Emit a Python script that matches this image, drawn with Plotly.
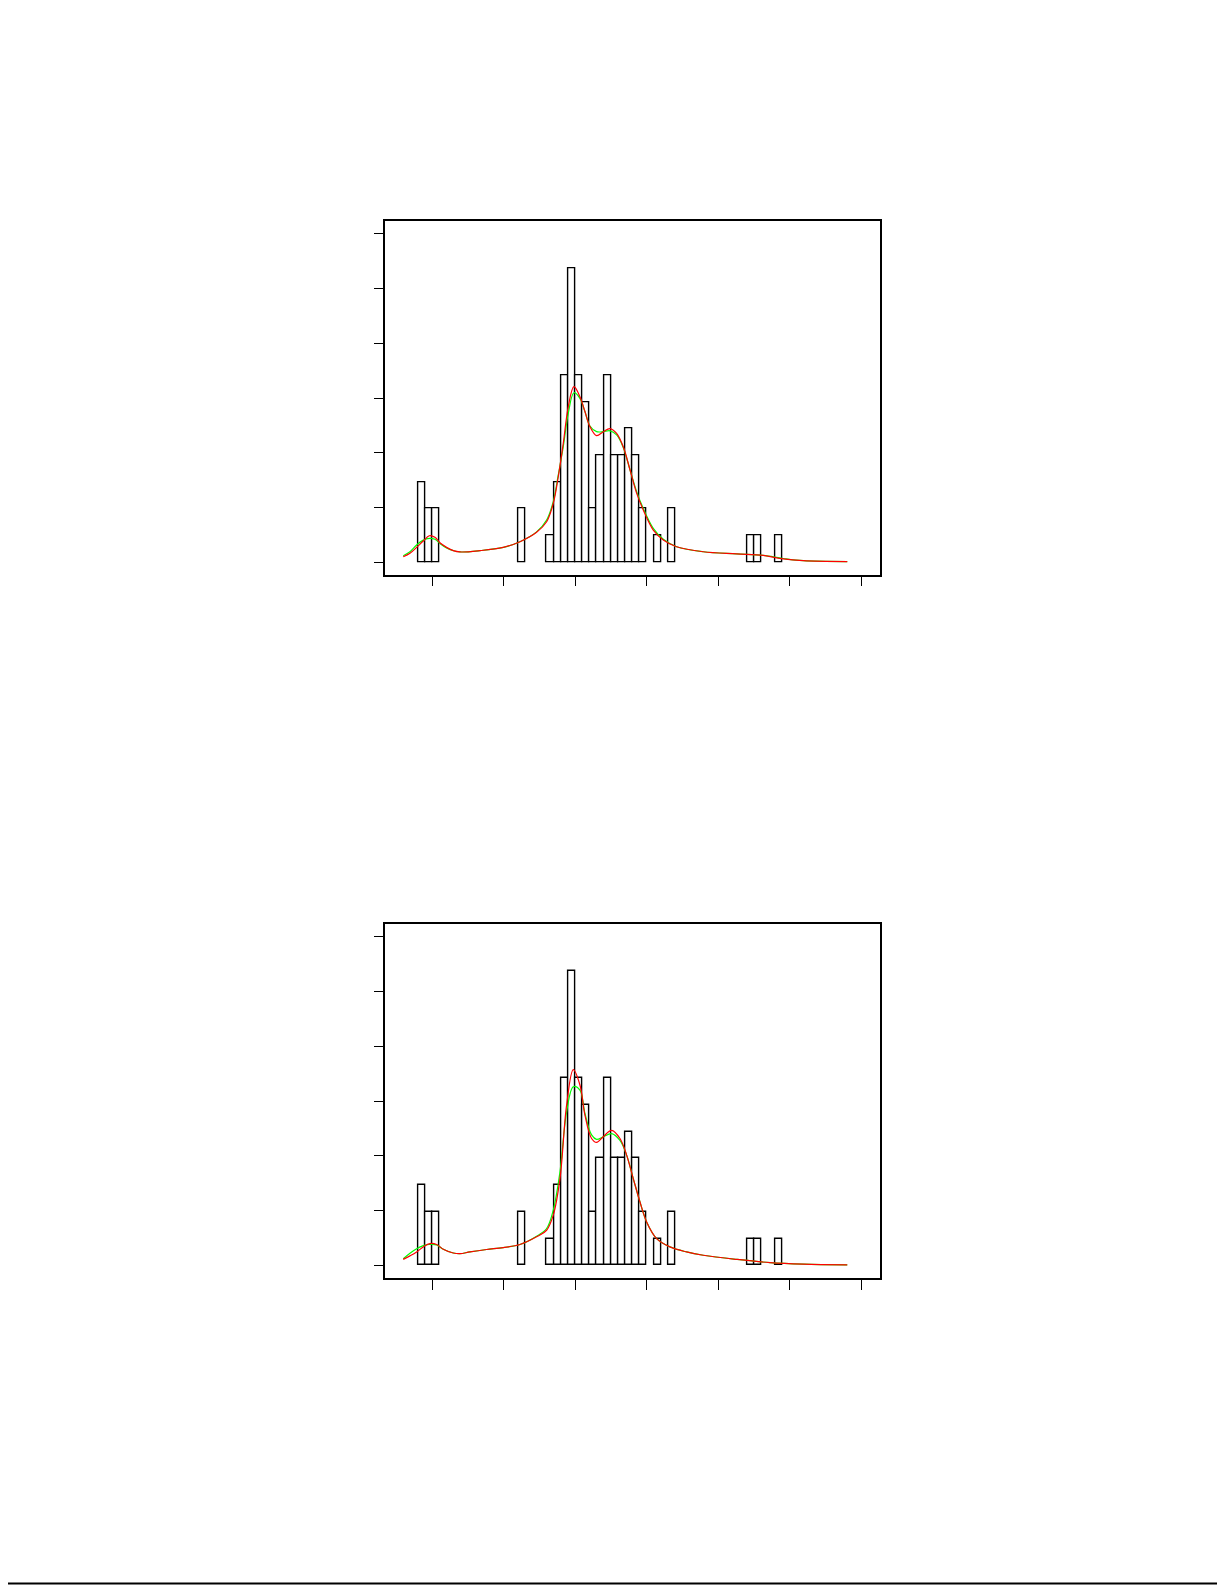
import plotly.graph_objects as go

# histogram: left edge of each bin (bin width 0.1) and counts, same sample in both panels
bin_left = [-0.2, -0.1, 0.0, 1.2, 1.6, 1.7, 1.8, 1.9, 2.0, 2.1, 2.2, 2.3, 2.4, 2.5,
            2.6, 2.7, 2.8, 2.9, 3.1, 3.3, 4.4, 4.5, 4.8]
bin_count = [3, 2, 2, 2, 1, 3, 7, 11, 7, 6, 2, 4, 7, 4, 4, 5, 4, 2, 1, 2, 1, 1, 1]
bin_width = 0.1

# density curves, top panel
x_top = [-0.406, -0.312, -0.219, -0.126, -0.042, 0.037, 0.107, 0.200, 0.294, 0.387,
         0.667, 0.993, 1.226, 1.459, 1.599, 1.692, 1.762, 1.832, 1.902, 1.981, 2.065,
         2.135, 2.205, 2.298, 2.392, 2.485, 2.578, 2.671, 2.765, 2.858, 2.951, 3.091,
         3.231, 3.417, 3.790, 4.256, 4.629, 4.909, 5.189, 5.804]
red_top = [0.024, 0.040, 0.067, 0.096, 0.120, 0.113, 0.088, 0.067, 0.052, 0.046,
           0.052, 0.067, 0.093, 0.136, 0.184, 0.268, 0.390, 0.543, 0.710, 0.802, 0.756,
           0.688, 0.619, 0.578, 0.596, 0.610, 0.588, 0.527, 0.422, 0.315, 0.238, 0.146,
           0.101, 0.070, 0.047, 0.037, 0.030, 0.014, 0.006, 0.002]
green_top = [0.029, 0.047, 0.078, 0.100, 0.108, 0.104, 0.085, 0.064, 0.052, 0.046,
             0.052, 0.067, 0.093, 0.138, 0.192, 0.276, 0.398, 0.527, 0.680, 0.774, 0.748,
             0.688, 0.622, 0.596, 0.596, 0.600, 0.581, 0.524, 0.422, 0.322, 0.245, 0.154,
             0.104, 0.070, 0.047, 0.037, 0.030, 0.016, 0.006, 0.002]

# density curves, bottom panel
x_bot = [-0.406, -0.312, -0.219, -0.126, -0.033, 0.061, 0.154, 0.294, 0.387, 0.527,
         0.760, 0.993, 1.226, 1.459, 1.599, 1.692, 1.786, 1.879, 1.972, 2.065, 2.135,
         2.228, 2.298, 2.392, 2.508, 2.625, 2.718, 2.811, 2.904, 2.998, 3.138, 3.324,
         3.557, 3.790, 4.256, 4.723, 5.189, 5.804]
red_bot = [0.027, 0.043, 0.061, 0.084, 0.099, 0.095, 0.073, 0.056, 0.053, 0.061,
           0.072, 0.081, 0.095, 0.130, 0.160, 0.229, 0.396, 0.732, 0.893, 0.823, 0.686,
           0.579, 0.561, 0.587, 0.616, 0.579, 0.503, 0.396, 0.290, 0.198, 0.122, 0.084,
           0.061, 0.046, 0.027, 0.012, 0.005, 0.002]
green_bot = [0.030, 0.055, 0.076, 0.090, 0.095, 0.093, 0.073, 0.056, 0.053, 0.061,
             0.072, 0.081, 0.095, 0.133, 0.168, 0.252, 0.427, 0.700, 0.815, 0.800, 0.694,
             0.595, 0.575, 0.587, 0.601, 0.570, 0.503, 0.396, 0.290, 0.198, 0.122, 0.084,
             0.061, 0.046, 0.027, 0.012, 0.005, 0.002]

x_ticks = [0, 1, 2, 3, 4, 5, 6]
y_ticks = [0, 0.25, 0.5, 0.75, 1.0, 1.25, 1.5]

# the page body keeps its default 8px margin, so the figure is drawn 8px in from the corner
OFF = 8
W, H = 1225 - OFF, 1585 - OFF
n_total = sum(bin_count)
centers = [b + bin_width / 2 for b in bin_left]
dens = [c / (n_total * bin_width) for c in bin_count]

fig = go.Figure()

panels = [("x", "y", x_top, green_top, red_top),
          ("x2", "y2", x_bot, green_bot, red_bot)]
for xa, ya, xs, g, r in panels:
    fig.add_trace(go.Bar(x=centers, y=dens, width=bin_width, xaxis=xa, yaxis=ya,
                         marker=dict(color="white", line=dict(color="black", width=1.4)),
                         showlegend=False, hoverinfo="skip"))
    fig.add_trace(go.Scatter(x=xs, y=g, mode="lines", xaxis=xa, yaxis=ya,
                             line=dict(color="#00FF00", width=1.2, shape="spline", smoothing=1.0),
                             showlegend=False))
    fig.add_trace(go.Scatter(x=xs, y=r, mode="lines", xaxis=xa, yaxis=ya,
                             line=dict(color="#FF0000", width=1.2, shape="spline", smoothing=1.0),
                             showlegend=False))

def ax_x(domain, anchor):
    return dict(domain=domain, anchor=anchor, range=[-0.657, 6.266], tickvals=x_ticks,
                showticklabels=False, ticks="outside", ticklen=10, tickwidth=1.3,
                tickcolor="black", showline=True, linecolor="black", linewidth=1.5,
                mirror=True, showgrid=False, zeroline=False)

def ax_y(domain, anchor):
    return dict(domain=domain, anchor=anchor, range=[-0.058, 1.558], tickvals=y_ticks,
                showticklabels=False, ticks="outside", ticklen=10, tickwidth=1.3,
                tickcolor="black", showline=True, linecolor="black", linewidth=1.5,
                mirror=True, showgrid=False, zeroline=False)

def px_x(v):
    return (v - OFF) / W

def px_y(v):
    return 1 - (v - OFF) / H

xdom = [px_x(385.3), px_x(880.3)]
fig.update_layout(
    width=W, height=H,
    margin=dict(l=0, r=0, t=0, b=0),
    paper_bgcolor="white", plot_bgcolor="white",
    bargap=0,
    xaxis=ax_x(xdom, "y"),
    yaxis=ax_y([px_y(574.7), px_y(221.3)], "x"),
    xaxis2=ax_x(xdom, "y2"),
    yaxis2=ax_y([px_y(1278), px_y(924)], "x2"),
)

# thin rule along the bottom of the page
fig.add_shape(type="line", xref="paper", yref="paper", x0=px_x(0), x1=1,
              y0=px_y(1583.6), y1=px_y(1583.6), line=dict(color="black", width=2))

fig.write_html("out.html")
